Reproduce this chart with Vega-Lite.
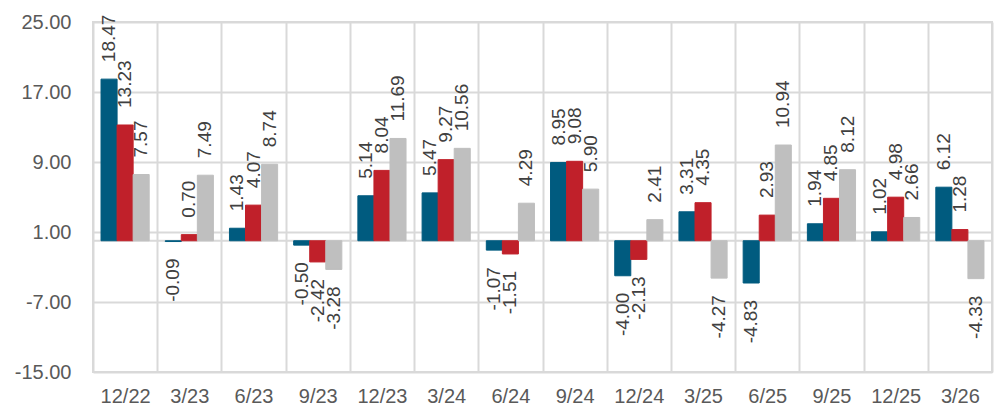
{
  "$schema": "https://vega.github.io/schema/vega-lite/v6.json",
  "width": 899,
  "height": 350,
  "autosize": {"type": "none"},
  "padding": {"left": 93, "top": 22, "right": 9, "bottom": 38},
  "background": "white",
  "config": {
    "view": {"stroke": "#d9d9d9", "strokeWidth": 2},
    "font": "Liberation Sans",
    "locale": {"number": {"decimal": ".", "thousands": ",", "grouping": [3], "currency": ["$", ""], "minus": "-"}}
  },
  "datasets": {
    "main": [
      {"period": "12/22", "series": "S1", "value": 18.47},
      {"period": "12/22", "series": "S2", "value": 13.23},
      {"period": "12/22", "series": "S3", "value": 7.57},
      {"period": "3/23", "series": "S1", "value": -0.09},
      {"period": "3/23", "series": "S2", "value": 0.70},
      {"period": "3/23", "series": "S3", "value": 7.49},
      {"period": "6/23", "series": "S1", "value": 1.43},
      {"period": "6/23", "series": "S2", "value": 4.07},
      {"period": "6/23", "series": "S3", "value": 8.74},
      {"period": "9/23", "series": "S1", "value": -0.50},
      {"period": "9/23", "series": "S2", "value": -2.42},
      {"period": "9/23", "series": "S3", "value": -3.28},
      {"period": "12/23", "series": "S1", "value": 5.14},
      {"period": "12/23", "series": "S2", "value": 8.04},
      {"period": "12/23", "series": "S3", "value": 11.69},
      {"period": "3/24", "series": "S1", "value": 5.47},
      {"period": "3/24", "series": "S2", "value": 9.27},
      {"period": "3/24", "series": "S3", "value": 10.56},
      {"period": "6/24", "series": "S1", "value": -1.07},
      {"period": "6/24", "series": "S2", "value": -1.51},
      {"period": "6/24", "series": "S3", "value": 4.29},
      {"period": "9/24", "series": "S1", "value": 8.95},
      {"period": "9/24", "series": "S2", "value": 9.08},
      {"period": "9/24", "series": "S3", "value": 5.90},
      {"period": "12/24", "series": "S1", "value": -4.00},
      {"period": "12/24", "series": "S2", "value": -2.13},
      {"period": "12/24", "series": "S3", "value": 2.41},
      {"period": "3/25", "series": "S1", "value": 3.31},
      {"period": "3/25", "series": "S2", "value": 4.35},
      {"period": "3/25", "series": "S3", "value": -4.27},
      {"period": "6/25", "series": "S1", "value": -4.83},
      {"period": "6/25", "series": "S2", "value": 2.93},
      {"period": "6/25", "series": "S3", "value": 10.94},
      {"period": "9/25", "series": "S1", "value": 1.94},
      {"period": "9/25", "series": "S2", "value": 4.85},
      {"period": "9/25", "series": "S3", "value": 8.12},
      {"period": "12/25", "series": "S1", "value": 1.02},
      {"period": "12/25", "series": "S2", "value": 4.98},
      {"period": "12/25", "series": "S3", "value": 2.66},
      {"period": "3/26", "series": "S1", "value": 6.12},
      {"period": "3/26", "series": "S2", "value": 1.28},
      {"period": "3/26", "series": "S3", "value": -4.33}
    ],
    "zero": [{"v": 0}]
  },
  "layer": [
    {
      "data": {"name": "zero"},
      "mark": {"type": "rule", "color": "#d9d9d9", "strokeWidth": 2},
      "encoding": {"y": {"field": "v", "type": "quantitative"}}
    },
    {
      "data": {"name": "main"},
      "mark": {"type": "bar", "strokeWidth": 1},
      "encoding": {
        "x": {
          "field": "period", "type": "nominal", "sort": null,
          "scale": {"paddingInner": 0, "paddingOuter": 0},
          "axis": {
            "title": null, "labelAngle": 0, "grid": true, "tickBand": "extent",
            "gridColor": "#d9d9d9", "gridWidth": 2, "domain": false, "ticks": false,
            "labelFontSize": 20, "labelColor": "#595959", "labelPadding": 14
          }
        },
        "xOffset": {"field": "series", "type": "nominal", "scale": {"paddingInner": 0, "paddingOuter": 0.5}},
        "y": {
          "field": "value", "type": "quantitative",
          "scale": {"domain": [-15, 25], "nice": false, "zero": false},
          "axis": {
            "title": null, "values": [-15, -7, 1, 9, 17, 25], "format": ".2f",
            "grid": true, "gridColor": "#d9d9d9", "gridWidth": 2, "domain": false, "ticks": false,
            "labelFontSize": 20, "labelColor": "#595959", "labelPadding": 22
          }
        },
        "color": {
          "field": "series", "type": "nominal",
          "scale": {"domain": ["S1", "S2", "S3"], "range": ["#005b7f", "#c0202a", "#bfbfbf"]},
          "legend": null
        },
        "stroke": {
          "field": "series", "type": "nominal",
          "scale": {"domain": ["S1", "S2", "S3"], "range": ["#005b7f", "#c0202a", "#bfbfbf"]},
          "legend": null
        }
      }
    },
    {
      "data": {"name": "main"},
      "transform": [{"filter": "datum.value >= 0"}],
      "mark": {"type": "text", "angle": 270, "align": "left", "baseline": "middle", "dx": 17, "fontSize": 19, "color": "#404040"},
      "encoding": {
        "x": {"field": "period", "type": "nominal", "sort": null},
        "xOffset": {"field": "series", "type": "nominal"},
        "y": {"field": "value", "type": "quantitative"},
        "text": {"field": "value", "type": "quantitative", "format": ".2f"}
      }
    },
    {
      "data": {"name": "main"},
      "transform": [{"filter": "datum.value < 0"}],
      "mark": {"type": "text", "angle": 270, "align": "right", "baseline": "middle", "dx": -17, "fontSize": 19, "color": "#404040"},
      "encoding": {
        "x": {"field": "period", "type": "nominal", "sort": null},
        "xOffset": {"field": "series", "type": "nominal"},
        "y": {"field": "value", "type": "quantitative"},
        "text": {"field": "value", "type": "quantitative", "format": ".2f"}
      }
    }
  ]
}
